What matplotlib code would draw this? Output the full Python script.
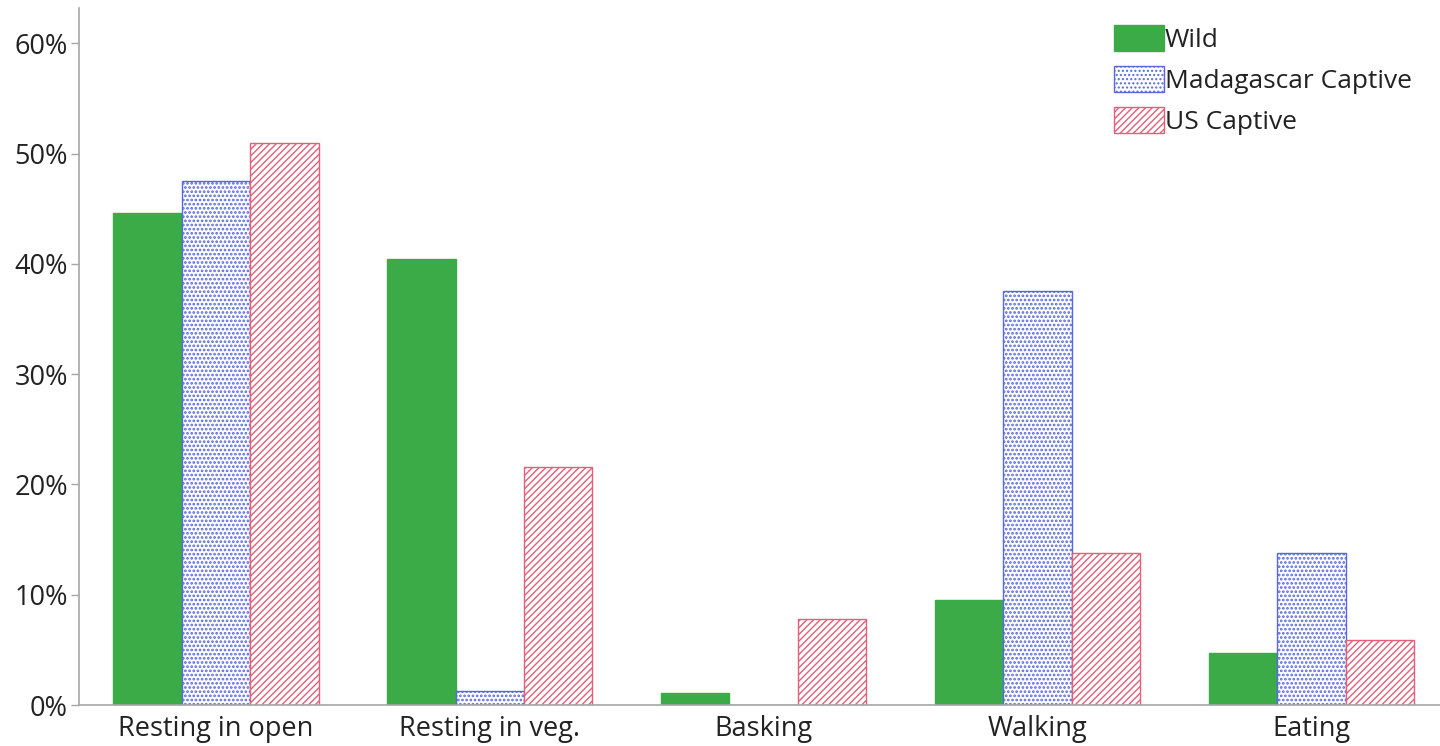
import matplotlib
matplotlib.use("Agg")
import matplotlib.pyplot as plt
import numpy as np
from matplotlib.ticker import FuncFormatter

categories = ["Resting in open", "Resting in veg.", "Basking", "Walking", "Eating"]
series_names = ["Wild", "Madagascar Captive", "US Captive"]
wild = [44.6, 40.4, 1.1, 9.5, 4.7]
madagascar = [47.5, 1.3, 0.0, 37.5, 13.8]
us_captive = [51.0, 21.6, 7.8, 13.8, 5.9]
yticks = [0, 10, 20, 30, 40, 50, 60]

plt.rcParams['font.family'] = ['Open Sans', 'DejaVu Sans']

fig = plt.figure(figsize=(14.4, 7.46), dpi=100)
ax = fig.add_axes([79/1440, 41/746, 1 - 79/1440, (705-8)/746])

x = np.arange(len(categories))
w = 0.25
green = "#3bab47"
blue = "#5868e0"
red = "#e2607a"

ax.bar(x - w, wild, w, color=green, edgecolor=green, linewidth=1, label=series_names[0])
plt.rcParams['hatch.linewidth'] = 1.3
ax.bar(x, madagascar, w, facecolor="white", edgecolor=blue, hatch="....", linewidth=1, label=series_names[1])
plt.rcParams['hatch.linewidth'] = 1.0
ax.bar(x + w, us_captive, w, facecolor="white", edgecolor=red, hatch="/////", linewidth=1, label=series_names[2])

ax.set_xlim(-0.5, 4.47)
ax.set_ylim(0, 63.2)
ax.set_yticks(yticks)
ax.yaxis.set_major_formatter(FuncFormatter(lambda v, p: f"{int(v)}%"))
ax.set_xticks(x)
ax.set_xticklabels(categories)

for s in ["top", "right"]:
    ax.spines[s].set_visible(False)
for s in ["left", "bottom"]:
    ax.spines[s].set_color("#a6a6a6")
    ax.spines[s].set_linewidth(1.2)

ax.tick_params(axis="y", length=6, width=1, color="#a6a6a6", labelsize=19.5, labelcolor="#222222", pad=2)
ax.tick_params(axis="x", length=0, labelsize=19.5, labelcolor="#222222", pad=7)

leg = ax.legend(loc="upper left", frameon=False, fontsize=19, handlelength=1.9, handleheight=1.15,
                handletextpad=0.05, labelspacing=0.5, borderaxespad=0, labelcolor="#222222")
leg.set_bbox_to_anchor((1103/1440, 0.981), transform=fig.transFigure)

fig.savefig("out.png", dpi=100)
